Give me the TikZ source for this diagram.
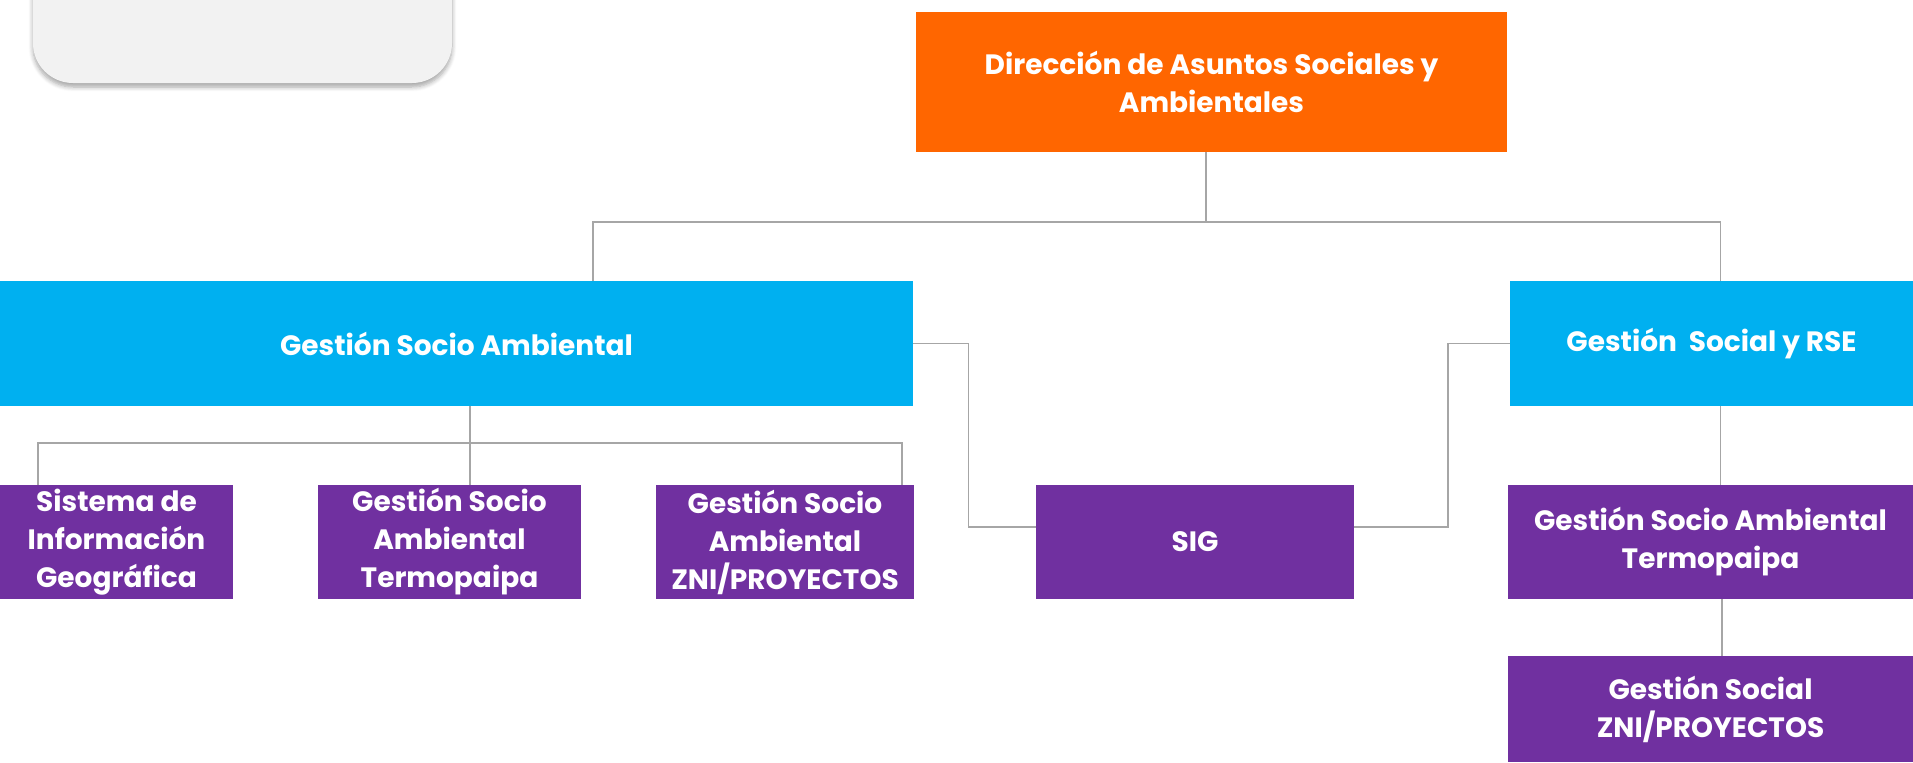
\documentclass[tikz,border=0pt]{standalone}
\usepackage{fontspec}
\setmainfont{Poppins}
\usepackage{tikz}
\usetikzlibrary{calc,shadows.blur}

\definecolor{dirorange}{HTML}{FF6600}
\definecolor{areacyan}{HTML}{00B0F0}
\definecolor{unitpurple}{HTML}{7030A0}
\definecolor{panelgray}{HTML}{F2F2F2}
\definecolor{linkgray}{HTML}{A6A6A6}

\tikzset{
	orgbox/.style={inner sep=0pt, align=center, text=white,
		font=\fontsize{14}{19}\selectfont\bfseries},
	dirbox/.style={orgbox, fill=dirorange},
	areabox/.style={orgbox, fill=areacyan, minimum height=62.5pt},
	unitbox/.style={orgbox, fill=unitpurple, minimum height=57pt},
	link/.style={draw=linkgray, line width=0.9pt},
}

\begin{document}
\begin{tikzpicture}[x=0.5pt,y=-0.5pt] %
				\useasboundingbox (0,0) rectangle (1913,762);
				\clip (0,0) rectangle (1913,762);
				
				% Panel
				\path[fill=panelgray, rounded corners=20pt,
					blur shadow={shadow xshift=0pt, shadow yshift=-2pt, shadow opacity=35, shadow blur steps=6}]
					(33,-60) rectangle (452,83);
				
				% Center
				\node[dirbox, minimum width=295.5pt, minimum height=70pt] (dir) at (1211.5,82) {Dirección de Asuntos Sociales y\\Ambientales};
				\node[areabox, minimum width=456.5pt] (gsa) at (456.5,343.5) {Gestión Socio Ambiental};
				\node[areabox, minimum width=201.5pt] (gsr) at (1711.5,343.5) {Gestión\ \ Social y RSE};
				
				% Units
				\node[unitbox, minimum width=116.5pt] (sinfo) at (116.5,542) {Sistema de\\Información\\Geográfica};
				\node[unitbox, minimum width=131.5pt] (gsatermo) at (449.5,542) {Gestión Socio\\Ambiental\\Termopaipa};
				\node[unitbox, minimum width=129pt] (gsazni) at (785,542) {Gestión Socio\\Ambiental\\ZNI/PROYECTOS};
				\node[unitbox, minimum width=159pt] (sig) at (1195,542) {SIG};
				\node[unitbox, minimum width=202.5pt] (gsrtermo) at (1710.5,542) {Gestión Socio Ambiental\\Termopaipa};
				\node[unitbox, minimum width=202.5pt, minimum height=53pt] (gsrzni) at (1710.5,709) {Gestión Social\\ ZNI/PROYECTOS};
				
				% Links
				\coordinate (topbus) at (1206,222);
				\coordinate (lowbus) at (470,443);
				\draw[link] (dir.south -| topbus) -- (topbus);
				\draw[link] (topbus) -| ($(gsa.north)+(136.5,0)$);
				\draw[link] (topbus) -| ($(gsr.north)+(9,0)$);
				\draw[link] (gsa.south -| lowbus) -- (lowbus);
				\draw[link] (lowbus) -| ($(sinfo.north)+(-78.5,0)$);
				\draw[link] (lowbus) -- ($(gsatermo.north)+(20.5,0)$);
				\draw[link] (lowbus) -| ($(gsazni.north)+(117,0)$);
				\draw[link] (gsa.east) -- ++(55,0) |- ($(sig.west)+(0,-15)$);
				\draw[link] (gsr.west) -- ++(-62,0) |- ($(sig.east)+(0,-15)$);
				\draw[link] ($(gsr.south)+(9,0)$) -- ($(gsrtermo.north)+(10,0)$);
				\draw[link] ($(gsrtermo.south)+(11.5,0)$) -- ($(gsrzni.north)+(11.5,0)$);
			\end{tikzpicture}
\end{document}
